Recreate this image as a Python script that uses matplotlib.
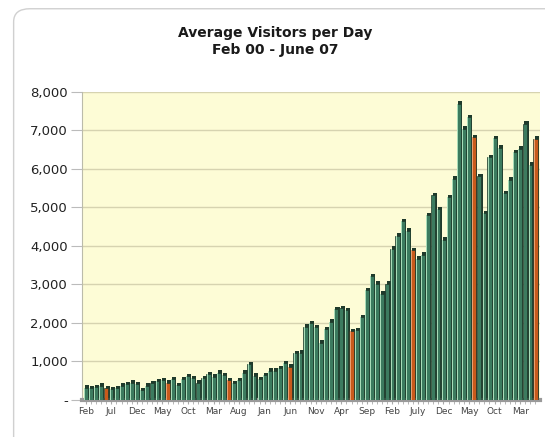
import numpy as np
import matplotlib.pyplot as plt
from matplotlib.patches import FancyBboxPatch

# monthly average visitors per day, Feb 2000 .. June 2007
visitors = [320, 310, 330, 365, 310, 280, 310, 365, 415, 450, 415, 260,
            365, 430, 490, 520, 450, 535, 390, 535, 620, 560, 450, 560,
            665, 605, 710, 650, 520, 430, 520, 710, 925, 630, 535, 650,
            760, 760, 820, 950, 860, 1210, 1225, 1900, 1990, 1880, 1485, 1830,
            2030, 2350, 2390, 2330, 1790, 1810, 2140, 2850, 3210, 3020, 2760, 3020,
            3930, 4260, 4640, 4390, 3890, 3670, 3770, 4790, 5310, 4960, 4160, 5270,
            5740, 7690, 7040, 7340, 6820, 5800, 4850, 6300, 6800, 6550, 5370, 5720,
            6430, 6520, 7170, 6110, 6780]
tick_labels = ["Feb", "Jul", "Dec", "May", "Oct", "Mar", "Aug", "Jan", "Jun",
               "Nov", "Apr", "Sep", "Feb", "July", "Dec", "May", "Oct", "Mar"]
y_ticks = [0, 1000, 2000, 3000, 4000, 5000, 6000, 7000, 8000]

n = len(visitors)
x = np.arange(n)
months = [(1 + i) % 12 for i in range(n)]   # month index, Feb 00 is 1
green = "#3c7b5f"
orange = "#c85a1c"
colors = [orange if m == 5 else green for m in months]
highlight = ["#e8a070" if m == 5 else "#a8dcb8" for m in months]

fig = plt.figure(figsize=(5.45, 4.37), dpi=100)

# rounded panel behind the chart
panel = FancyBboxPatch((0.025, -0.05), 1.2, 1.03, boxstyle="round,pad=0,rounding_size=0.03",
                       transform=fig.transFigure, facecolor="white",
                       edgecolor="#d0d0d0", linewidth=1.0, zorder=-5)
fig.patches.append(panel)

ax = fig.add_axes([0.150, 0.085, 0.840, 0.705])
ax.set_zorder(2)
ax.set_facecolor("#fdfcd6")

# shadow / 3d side of the bars
ax.bar(x + 0.25, visitors, width=0.8, color="#1f3a2b", zorder=2, bottom=60)
ax.bar(x, visitors, width=0.8, color=colors, edgecolor="#1f3a2b",
       linewidth=0.5, zorder=3)
ax.bar(x - 0.25, visitors, width=0.18, color=highlight, zorder=4, linewidth=0)

ax.set_xlim(-0.8, n - 0.2)
ax.set_ylim(0, 8000)
ax.set_yticks(y_ticks)
ax.set_yticklabels(["-" if v == 0 else f"{v:,}" for v in y_ticks],
                   fontsize=9.5, color="#222222")
ax.grid(axis="y", color="#d6d3b0", linewidth=1.0, zorder=1)
ax.set_axisbelow(True)

ax.set_xticks(x[::5])
ax.set_xticklabels(tick_labels, fontsize=6.5, color="#444444")
ax.set_xticks(x, minor=True)
ax.tick_params(axis="x", which="both", length=3, color="#aaaaaa", pad=2)
ax.tick_params(axis="y", length=8, color="#bbbbbb", pad=2)

for side in ["top", "right"]:
    ax.spines[side].set_visible(False)
ax.spines["left"].set_color("#bbbbaa")
ax.spines["bottom"].set_color("#999999")
ax.spines["bottom"].set_linewidth(3)

fig.text(0.505, 0.925, "Average Visitors per Day", ha="center", va="center",
         fontsize=10, fontweight="bold", color="#1a1a1a")
fig.text(0.505, 0.885, "Feb 00 - June 07", ha="center", va="center",
         fontsize=10, fontweight="bold", color="#1a1a1a")

fig.savefig("out.png", dpi=100)
